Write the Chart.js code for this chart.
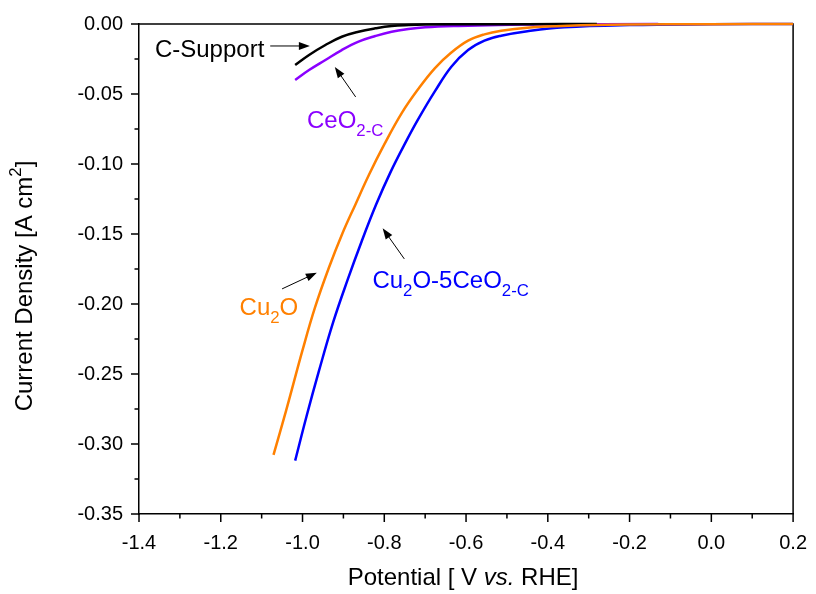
<!DOCTYPE html>
<html>
<head>
<meta charset="utf-8">
<script src="https://cdn.jsdelivr.net/npm/chart.js@4.4.1/dist/chart.umd.min.js"></script>
<style>
  body { margin: 0; background: #fff; }
  #wrap { width: 816px; height: 594px; position: relative; }
</style>
</head>
<body>
<div id="wrap"><canvas id="lsvChart"></canvas></div>
<script>
// potential [V vs. RHE] and current density [A cm-2]
const cSupportV = [-1.018, -0.984, -0.944, -0.904, -0.863, -0.822, -0.782, -0.74, -0.70, -0.60, -0.45, -0.28];
const cSupportJ = [-0.0293, -0.0221, -0.0150, -0.0091, -0.0055, -0.0031, -0.0014, -0.0007, -0.0004, -0.0002, -0.0001, 0];

const ceo2V = [-1.018, -0.984, -0.944, -0.904, -0.863, -0.822, -0.782, -0.741, -0.700, -0.619, -0.52, -0.40, -0.13];
const ceo2J = [-0.0400, -0.0329, -0.0257, -0.0186, -0.0126, -0.0086, -0.0055, -0.0036, -0.0024, -0.0014, -0.0007, -0.0003, 0];

const cu2oV = [-1.071, -1.040, -1.000, -0.970, -0.936, -0.903, -0.870, -0.838, -0.800, -0.757, -0.717, -0.676, -0.636, -0.595, -0.555, -0.514, -0.45, -0.35, -0.20, 0.0, 0.2];
const cu2oJ = [-0.3077, -0.2760, -0.2330, -0.2030, -0.1745, -0.1500, -0.1285, -0.1080, -0.0860, -0.0635, -0.0465, -0.0315, -0.0204, -0.0119, -0.0074, -0.0048, -0.0026, -0.0012, -0.0004, -0.0001, 0];

const cu2oCeo2V = [-1.018, -0.990, -0.960, -0.925, -0.890, -0.855, -0.820, -0.785, -0.745, -0.717, -0.676, -0.636, -0.595, -0.555, -0.514, -0.45, -0.36, -0.20, 0.0, 0.2];
const cu2oCeo2J = [-0.3119, -0.2800, -0.2480, -0.2130, -0.1830, -0.1550, -0.1290, -0.1060, -0.0830, -0.0680, -0.0480, -0.0305, -0.0186, -0.0119, -0.0084, -0.0052, -0.0024, -0.0008, -0.0002, 0];

const xMajorTicks = [-1.4, -1.2, -1.0, -0.8, -0.6, -0.4, -0.2, 0.0, 0.2];
const xMinorTicks = [-1.3, -1.1, -0.9, -0.7, -0.5, -0.3, -0.1, 0.1];
const yMajorTicks = [-0.35, -0.30, -0.25, -0.20, -0.15, -0.10, -0.05, 0.00];
const yMinorTicks = [-0.325, -0.275, -0.225, -0.175, -0.125, -0.075, -0.025];

// labels and arrows, placed in data units
const labelTexts = [
    [['C-Support']],
    [['CeO'], ['2-C', 'sub']],
    [['Cu'], ['2', 'sub'], ['O']],
    [['Cu'], ['2', 'sub'], ['O-5CeO'], ['2-C', 'sub']]
];
const labelAt = [[-1.361, -0.0236], [-0.989, -0.0743], [-1.154, -0.2078], [-0.829, -0.1885]];
const labelColors = ['#000000', '#8a00ff', '#ff8000', '#0000ff'];
const arrowFrom = [[-1.079, -0.0157], [-0.870, -0.0521], [-1.050, -0.1892], [-0.751, -0.1678]];
const arrowTo = [[-0.982, -0.0157], [-0.921, -0.0307], [-0.965, -0.1776], [-0.804, -0.1459]];

const FONT = '"Liberation Sans", Arial, sans-serif';

function toPoints(xs, ys) {
    return xs.map((x, i) => ({ x: x, y: ys[i] }));
}

function drawRich(ctx, x, y, parts, size, measureOnly) {
    let cx = x;
    parts.forEach(p => {
        const kind = p[1];
        const s = (kind === 'sub' || kind === 'sup') ? size * 0.7 : size;
        ctx.font = (kind === 'it' ? 'italic ' : '') + s + 'px ' + FONT;
        let dy = 0;
        if (kind === 'sub') dy = size * 0.33;
        if (kind === 'sup') dy = -size * 0.38;
        if (!measureOnly) ctx.fillText(p[0], cx, y + dy);
        cx += ctx.measureText(p[0]).width;
    });
    return cx - x;
}

function drawArrow(ctx, x1, y1, x2, y2) {
    const a = Math.atan2(y2 - y1, x2 - x1);
    const len = 11, half = 4;
    ctx.beginPath();
    ctx.moveTo(x1, y1);
    ctx.lineTo(x2 - Math.cos(a) * len * 0.8, y2 - Math.sin(a) * len * 0.8);
    ctx.stroke();
    ctx.beginPath();
    ctx.moveTo(x2, y2);
    ctx.lineTo(x2 - Math.cos(a) * len + Math.sin(a) * half, y2 - Math.sin(a) * len - Math.cos(a) * half);
    ctx.lineTo(x2 - Math.cos(a) * len - Math.sin(a) * half, y2 - Math.sin(a) * len + Math.cos(a) * half);
    ctx.closePath();
    ctx.fill();
}

const framePlugin = {
    id: 'frame',
    beforeDatasetsDraw(chart) {
        const { ctx, chartArea: a } = chart;
        ctx.save();
        ctx.strokeStyle = '#000';
        ctx.lineWidth = 1.5;
        ctx.beginPath();
        ctx.moveTo(a.left, a.top);
        ctx.lineTo(a.right, a.top);
        ctx.lineTo(a.right, a.bottom);
        ctx.stroke();
        ctx.restore();
    },
    afterDraw(chart) {
        const { ctx, chartArea: a } = chart;
        const xs = chart.scales.x, ys = chart.scales.y;
        ctx.save();
        ctx.strokeStyle = '#000';
        ctx.fillStyle = '#000';
        ctx.lineWidth = 1.5;

        // tick marks, pointing out
        ctx.beginPath();
        xMajorTicks.concat(xMinorTicks).forEach((v, i) => {
            const px = xs.getPixelForValue(v);
            const len = i < xMajorTicks.length ? 8 : 4.5;
            ctx.moveTo(px, a.bottom);
            ctx.lineTo(px, a.bottom + len);
        });
        yMajorTicks.concat(yMinorTicks).forEach((v, i) => {
            const py = ys.getPixelForValue(v);
            const len = i < yMajorTicks.length ? 8 : 4.5;
            ctx.moveTo(a.left, py);
            ctx.lineTo(a.left - len, py);
        });
        ctx.stroke();

        // arrows
        ctx.lineWidth = 1;
        arrowFrom.forEach((f, i) => {
            const t = arrowTo[i];
            drawArrow(ctx, xs.getPixelForValue(f[0]), ys.getPixelForValue(f[1]),
                xs.getPixelForValue(t[0]), ys.getPixelForValue(t[1]));
        });

        // curve labels
        ctx.textBaseline = 'alphabetic';
        ctx.textAlign = 'left';
        labelTexts.forEach((parts, i) => {
            ctx.fillStyle = labelColors[i];
            drawRich(ctx, xs.getPixelForValue(labelAt[i][0]), ys.getPixelForValue(labelAt[i][1]), parts, 24);
        });

        // axis titles
        ctx.fillStyle = '#000';
        ctx.textBaseline = 'middle';
        const xTitle = [['Potential [ V '], ['vs.', 'it'], [' RHE]']];
        const wx = drawRich(ctx, 0, 0, xTitle, 24, true);
        drawRich(ctx, (a.left + a.right) / 2 - 3 - wx / 2, a.bottom + 64, xTitle, 24);

        const yTitle = [['Current Density [A cm'], ['2', 'sup'], [']']];
        const wy = drawRich(ctx, 0, 0, yTitle, 24, true);
        ctx.translate(25, (a.top + a.bottom) / 2 + 17);
        ctx.rotate(-Math.PI / 2);
        drawRich(ctx, -wy / 2, 0, yTitle, 24);
        ctx.restore();
    }
};

function lineSet(label, xs, ys, color) {
    return {
        label: label,
        data: toPoints(xs, ys),
        showLine: true,
        borderColor: color,
        backgroundColor: color,
        borderWidth: 2.5,
        pointRadius: 0,
        tension: 0.4,
        clip: false
    };
}

const ctx = document.getElementById('lsvChart').getContext('2d');
new Chart(ctx, {
    type: 'scatter',
    data: {
        datasets: [
            lineSet('Cu2O', cu2oV, cu2oJ, '#ff8000'),
            lineSet('Cu2O-5CeO2-C', cu2oCeo2V, cu2oCeo2J, '#0000ff'),
            lineSet('C-Support', cSupportV, cSupportJ, '#000000'),
            lineSet('CeO2-C', ceo2V, ceo2J, '#8a00ff')
        ]
    },
    options: {
        responsive: true,
        maintainAspectRatio: false,
        animation: false,
        layout: { padding: { left: 0, top: 24, right: 19, bottom: 0 } },
        plugins: {
            legend: { display: false },
            tooltip: { enabled: false }
        },
        scales: {
            x: {
                type: 'linear',
                min: -1.4,
                max: 0.2,
                afterFit(scale) { scale.height = 80; },
                afterBuildTicks(scale) {
                    scale.ticks = xMajorTicks.map(v => ({ value: v }));
                },
                ticks: {
                    autoSkip: false,
                    maxRotation: 0,
                    padding: 9,
                    color: '#000',
                    font: { family: FONT, size: 20 },
                    callback: v => v.toFixed(1)
                },
                grid: { display: true, drawOnChartArea: false, drawTicks: true, tickLength: 8, color: 'rgba(0,0,0,0)' },
                border: { display: true, color: '#000', width: 1.5 }
            },
            y: {
                type: 'linear',
                min: -0.35,
                max: 0,
                afterFit(scale) { scale.width = 139; },
                afterBuildTicks(scale) {
                    scale.ticks = yMajorTicks.map(v => ({ value: v }));
                },
                ticks: {
                    autoSkip: false,
                    padding: 8,
                    color: '#000',
                    font: { family: FONT, size: 20 },
                    callback: v => v.toFixed(2)
                },
                grid: { display: true, drawOnChartArea: false, drawTicks: true, tickLength: 8, color: 'rgba(0,0,0,0)' },
                border: { display: true, color: '#000', width: 1.5 }
            }
        }
    },
    plugins: [framePlugin]
});
</script>
</body>
</html>
